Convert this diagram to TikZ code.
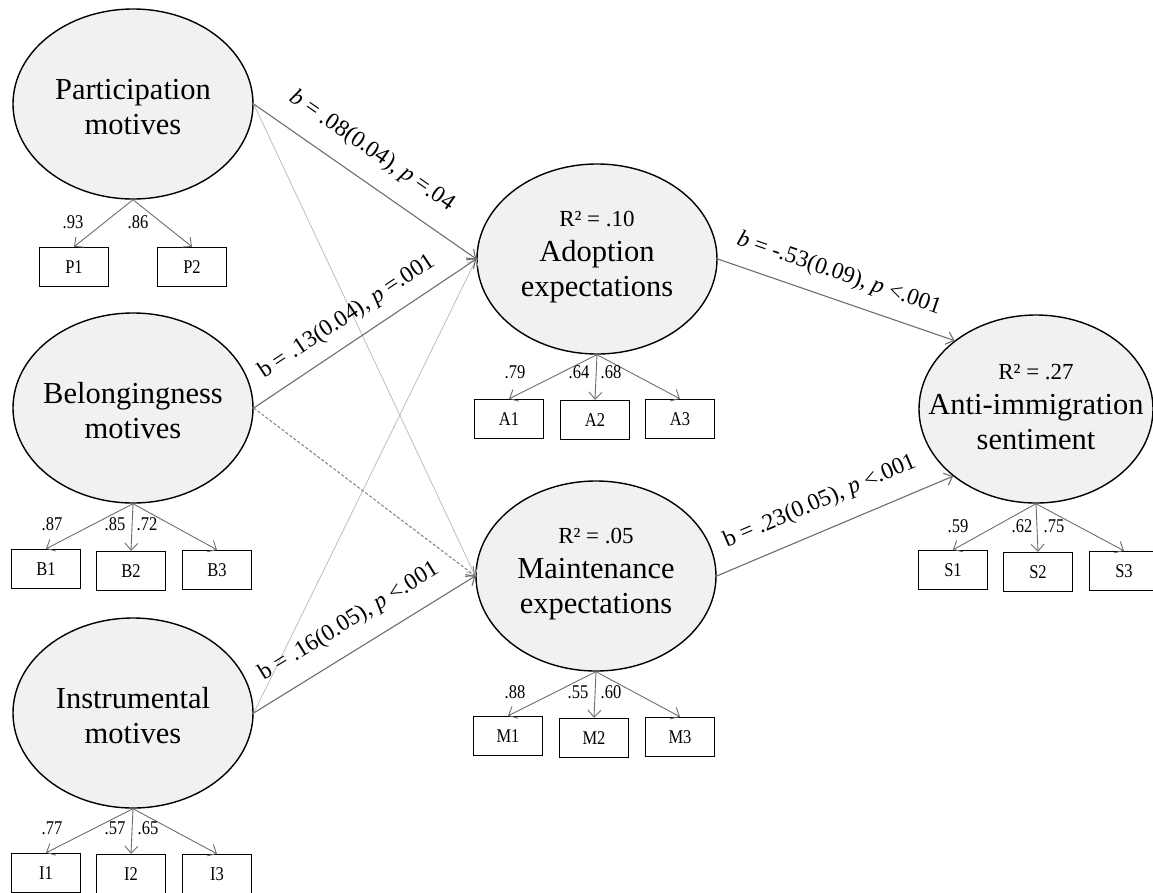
\documentclass[tikz,border=0pt]{standalone}
\usepackage{fontspec}
\setmainfont{Liberation Serif}
\usetikzlibrary{shapes.geometric,arrows.meta}
\definecolor{latfill}{HTML}{F1F1F1}
\definecolor{arrgray}{HTML}{6E6E6E}
\definecolor{faintgray}{HTML}{BDBDBD}
\definecolor{dashgray}{HTML}{808080}
\newcommand{\tallsmall}[1]{\scalebox{1}[1.18]{#1}}
\begin{document}
\begin{tikzpicture}[x=1pt,y=-1pt,
  latent/.style={ellipse, draw=black, line width=1.4pt, fill=latfill, minimum width=240pt, minimum height=190pt, inner sep=0pt},
  lattext/.style={align=center, inner sep=0pt, font=\fontsize{30.5}{35}\selectfont},
  ind/.style={rectangle, draw=black, line width=1.4pt, minimum width=69pt, minimum height=39pt, inner sep=0pt, font=\fontsize{16.5}{19}\selectfont},
  ld/.style={font=\fontsize{16.5}{19}\selectfont, inner sep=0pt},
  pathlbl/.style={font=\fontsize{23.5}{27}\selectfont, inner sep=0pt},
  tip/.style={-{Straight Barb[length=7pt,width=13pt]}},
  arr/.style={draw=arrgray, line width=1.1pt, tip},
  faint/.style={draw=faintgray, line width=0.8pt, tip},
  dashedarr/.style={draw=dashgray, line width=1pt, dash pattern=on 3pt off 2pt, tip},
]
\useasboundingbox (0,0) rectangle (1153,892);
\fill[white] (0,0) rectangle (1153,892);

% latent variables
\node[latent] (part) at (133,104) {};
\node[lattext] (partT) at (133,107) {Participation\\motives};
\node[latent] (belong) at (133,408) {};
\node[lattext] (belongT) at (133,411) {Belongingness\\motives};
\node[latent] (instr) at (133,713) {};
\node[lattext] (instrT) at (133,716) {Instrumental\\motives};
\node[latent] (adop) at (597,259) {};
\node[lattext] (adopT) at (597,257) {{\fontsize{23}{28}\selectfont R² = .10}\\Adoption\\expectations};
\node[latent] (maint) at (596,576) {};
\node[lattext] (maintT) at (596,574) {{\fontsize{23}{28}\selectfont R² = .05}\\Maintenance\\expectations};
\node[latent, minimum width=234pt, minimum height=188pt] (anti) at (1036,409) {};
\node[lattext] (antiT) at (1036,407) {{\fontsize{23}{28}\selectfont R² = .27}\\Anti-immigration\\sentiment};

% indicators
\node[ind] (p1) at (74,267) {\tallsmall{P1}};
\node[ind] (p2) at (192,267) {\tallsmall{P2}};
\node[ind] (b1) at (46,569) {\tallsmall{B1}};
\node[ind] (b2) at (131,571) {\tallsmall{B2}};
\node[ind] (b3) at (217,570) {\tallsmall{B3}};
\node[ind] (i1) at (46,873) {\tallsmall{I1}};
\node[ind] (i2) at (131,874) {\tallsmall{I2}};
\node[ind] (i3) at (217,874) {\tallsmall{I3}};
\node[ind] (a1) at (509,419) {\tallsmall{A1}};
\node[ind] (a2) at (595,420) {\tallsmall{A2}};
\node[ind] (a3) at (680,419) {\tallsmall{A3}};
\node[ind] (m1) at (508,736) {\tallsmall{M1}};
\node[ind] (m2) at (594,738) {\tallsmall{M2}};
\node[ind] (m3) at (680,737) {\tallsmall{M3}};
\node[ind] (s1) at (953,570) {\tallsmall{S1}};
\node[ind] (s2) at (1038,572) {\tallsmall{S2}};
\node[ind] (s3) at (1124,571) {\tallsmall{S3}};

% loadings
\foreach \l/\b in {part/p1,part/p2,belong/b1,belong/b2,belong/b3,instr/i1,instr/i2,instr/i3,adop/a1,adop/a2,adop/a3,maint/m1,maint/m2,maint/m3,anti/s1,anti/s2,anti/s3}
  \draw[arr, line width=0.9pt] (\l.south) -- (\b.north);

\node[ld] (lp1) at (73,222) {\tallsmall{.93}};
\node[ld] (lp2) at (138,222) {\tallsmall{.86}};
\node[ld] (lb1) at (52,524) {\tallsmall{.87}};
\node[ld] (lb2) at (115,524) {\tallsmall{.85}};
\node[ld] (lb3) at (147,524) {\tallsmall{.72}};
\node[ld] (li1) at (52,828) {\tallsmall{.77}};
\node[ld] (li2) at (115,828) {\tallsmall{.57}};
\node[ld] (li3) at (148,828) {\tallsmall{.65}};
\node[ld] (la1) at (515,372) {\tallsmall{.79}};
\node[ld] (la2) at (579,372) {\tallsmall{.64}};
\node[ld] (la3) at (611,372) {\tallsmall{.68}};
\node[ld] (lm1) at (515,692) {\tallsmall{.88}};
\node[ld] (lm2) at (578,692) {\tallsmall{.55}};
\node[ld] (lm3) at (611,692) {\tallsmall{.60}};
\node[ld] (ls1) at (958,526) {\tallsmall{.59}};
\node[ld] (ls2) at (1022,526) {\tallsmall{.62}};
\node[ld] (ls3) at (1054,526) {\tallsmall{.75}};

% structural paths
\draw[faint] (part.east) -- (maint.west);
\draw[faint] (instr.east) -- (adop.west);
\draw[dashedarr] (belong.east) -- (maint.west);
\draw[arr] (part.east) -- (adop.west);
\draw[arr] (belong.east) -- (adop.west);
\draw[arr] (instr.east) -- (maint.west);
\draw[arr] (adop.east) -- (anti.140);
\draw[arr] (maint.east) -- (anti.219);

% path labels
\node[pathlbl, rotate=-34.7] (l1) at (372,151) {\textit{b} = .08(0.04), \textit{p} =.04};
\node[pathlbl, rotate=33.6] (l2) at (347,317) {b = .13(0.04), \textit{p} =.001};
\node[pathlbl, rotate=31.6] (l3) at (349,622) {b = .16(0.05), \textit{p} <.001};
\node[pathlbl, rotate=-19] (l4) at (839,274) {\textit{b} = -.53(0.09), \textit{p} <.001};
\node[pathlbl, rotate=23.1] (l5) at (820,502) {b = .23(0.05), \textit{p} <.001};
\end{tikzpicture}
\end{document}
